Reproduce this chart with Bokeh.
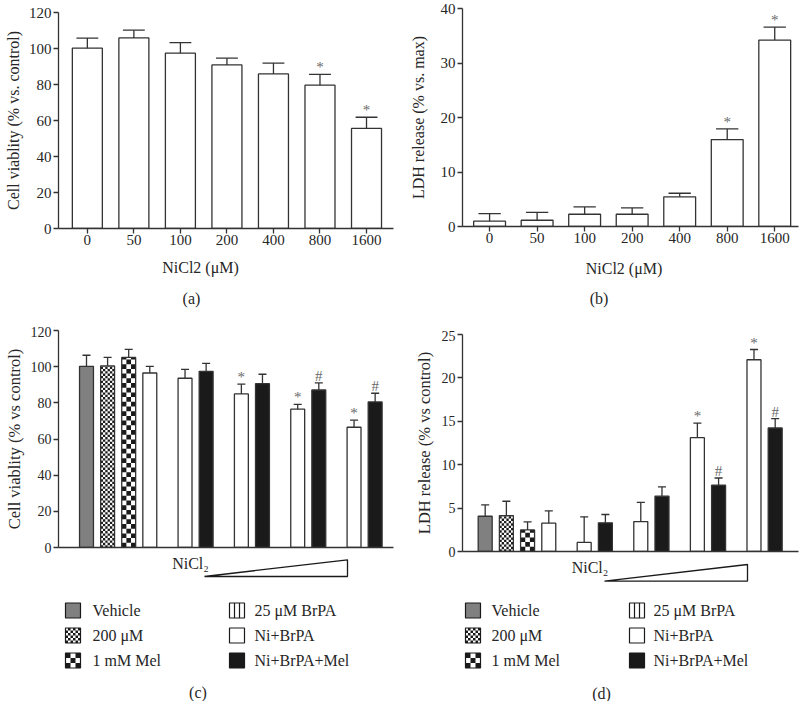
import math
from bokeh.plotting import figure
from bokeh.layouts import row, column
from bokeh.models import Range1d, FixedTicker, Label
from bokeh.core.properties import value
from bokeh.embed import file_html
from bokeh.resources import INLINE

FONT = "Liberation Serif"
INK = "#262626"
EDGE = "#333333"
STAR = "#6a6a6a"
GRAY = "#808080"
BLACK = "#1a1a1a"

# ---------------- data ----------------
doses = ["0", "50", "100", "200", "400", "800", "1600"]
a_viability = [100.2, 105.9, 97.4, 90.9, 85.9, 79.6, 55.6]
a_sem = [5.6, 4.3, 5.9, 3.7, 6.0, 6.0, 6.2]
a_sig = ["", "", "", "", "", "*", "*"]

b_ldh = [0.97, 1.15, 2.25, 2.25, 5.45, 15.95, 34.2]
b_sem = [1.4, 1.45, 1.35, 1.15, 0.65, 1.95, 2.4]
b_sig = ["", "", "", "", "", "*", "*"]

groups = ["Vehicle", "200 \u03bcM", "1 mM Mel", "25 \u03bcM BrPA", "Ni+BrPA", "Ni+BrPA+Mel"]
cd_group = [0, 1, 2, 3, 4, 5, 4, 5, 4, 5, 4, 5]

c_viability = [100.2, 100.4, 105.1, 96.5, 93.6, 97.4, 84.9, 90.6, 76.5, 87.1, 66.5, 80.5]
c_sem = [6.1, 4.7, 4.5, 3.7, 4.9, 4.4, 5.4, 5.2, 2.7, 3.9, 3.9, 4.8]
c_sig = ["", "", "", "", "", "", "*", "", "*", "#", "*", "#"]

d_ldh = [4.06, 4.14, 2.49, 3.26, 1.04, 3.30, 3.45, 6.37, 13.11, 7.63, 22.09, 14.23]
d_sem = [1.31, 1.65, 0.92, 1.42, 2.95, 0.96, 2.22, 1.07, 1.69, 0.84, 1.18, 1.07]
d_sig = ["", "", "", "", "", "", "", "", "*", "#", "*", "#"]

a_yticks = [0, 20, 40, 60, 80, 100, 120]
b_yticks = [0, 10, 20, 30, 40]
c_yticks = [0, 20, 40, 60, 80, 100, 120]
d_yticks = [0, 5, 10, 15, 20, 25]


# ---------------- helpers ----------------
class Geo:
    """Figure geometry: size, fixed borders and data ranges."""
    def __init__(self, w, h, bl, br, bt, bb, xr, yr):
        self.w, self.h = w, h
        self.bl, self.br, self.bt, self.bb = bl, br, bt, bb
        self.fw = w - bl - br
        self.fh = h - bt - bb
        self.xr, self.yr = xr, yr

    def uy(self, px):
        return px / self.fh * (self.yr[1] - self.yr[0])


def make_fig(g, **kw):
    p = figure(width=g.w, height=g.h, x_range=Range1d(*g.xr), y_range=Range1d(*g.yr),
               min_border_left=g.bl, min_border_right=g.br, min_border_top=g.bt,
               min_border_bottom=g.bb, output_backend="svg", toolbar_location=None, **kw)
    p.outline_line_color = None
    p.grid.visible = False
    p.background_fill_color = "white"
    p.border_fill_color = "white"
    return p


def style_axes(p, tick_size, label_size, ystand):
    for ax in p.axis:
        ax.axis_line_color = EDGE
        ax.axis_line_width = 1.3
        ax.major_tick_line_color = EDGE
        ax.major_tick_line_width = 1.3
        ax.major_tick_out = 5
        ax.major_tick_in = 0
        ax.minor_tick_line_color = None
        ax.major_label_text_font = FONT
        ax.major_label_text_font_size = tick_size
        ax.major_label_text_color = INK
        ax.axis_label_text_font = FONT
        ax.axis_label_text_font_size = label_size
        ax.axis_label_text_font_style = "normal"
        ax.axis_label_text_color = INK
        ax.major_label_standoff = 2
    p.yaxis.axis_label_standoff = ystand


def add_label(p, x, y, text, size="16px", align="center"):
    p.add_layout(Label(x=x, y=y, text=text, text_font=FONT, text_font_size=size,
                       text_color=INK, text_align=align, text_baseline="middle"))


def checker(xc, w, top, ncols, cell_h):
    L, R, B, T = [], [], [], []
    cw = w / ncols
    nrows = int(math.ceil(top / cell_h))
    for r in range(nrows):
        b = r * cell_h
        t = min(top, b + cell_h)
        for c in range(ncols):
            if (r + c) % 2 == 0:
                L.append(xc - w / 2 + c * cw)
                R.append(xc - w / 2 + (c + 1) * cw)
                B.append(b)
                T.append(t)
    return L, R, B, T


def errorbars(p, xs, vals, sems, cap, sig):
    tops = [v + s for v, s in zip(vals, sems)]
    p.segment(x0=xs, y0=vals, x1=xs, y1=tops, line_color=EDGE, line_width=1.3)
    p.segment(x0=[x - cap / 2 for x in xs], y0=tops, x1=[x + cap / 2 for x in xs], y1=tops,
              line_color=EDGE, line_width=1.3)
    p.text(x=xs, y=tops, text=sig, text_font=value(FONT), text_font_size="15px",
           text_color=STAR, text_align="center", text_baseline="bottom", y_offset=1)


def blank_fig(w, h, bl, br):
    # pixel-space figure whose frame lines up with the plots above it:
    # data x == pixel x inside the figure, data y == h - pixel y
    p = figure(width=w, height=h, x_range=Range1d(bl, w - br), y_range=Range1d(0, h),
               min_border_left=bl, min_border_right=br, min_border_top=0, min_border_bottom=0,
               x_axis_location=None, y_axis_location=None,
               output_backend="svg", toolbar_location=None)
    p.outline_line_color = None
    p.grid.visible = False
    p.background_fill_color = "white"
    p.border_fill_color = "white"
    return p


def caption_fig(w, h, bl, br, items):
    p = blank_fig(w, h, bl, br)
    for (x, y, t) in items:
        add_label(p, x, h - y, t)
    return p


# ---------------- top panels (a, b) ----------------
def top_panel(g, cats, vals, sems, sig, yticks, ylabel, bar_w, cap, ystand):
    p = make_fig(g)
    xs = list(range(len(cats)))
    p.vbar(x=xs, top=vals, bottom=0, width=bar_w, fill_color="white",
           line_color=EDGE, line_width=1.3)
    errorbars(p, xs, vals, sems, cap, sig)
    style_axes(p, "15px", "16px", ystand)
    p.xaxis.major_label_standoff = 1
    p.xaxis.ticker = FixedTicker(ticks=xs)
    p.xaxis.major_label_overrides = {i: c for i, c in enumerate(cats)}
    p.yaxis.ticker = FixedTicker(ticks=yticks)
    p.yaxis.axis_label = ylabel
    return p


# left column: a (0..254), caption (254..326), c (326..556), legend (556..701)
ga = Geo(400, 254, 58, 7, 12, 26, (-0.62, 6.58), (0, 120))
pa = top_panel(ga, doses, a_viability, a_sem, a_sig, a_yticks,
               "Cell viablity (% vs. control)", 0.645, 0.47, 4)
cap_a = caption_fig(400, 72, 58, 7, [(200, 12.7, "NiCl2 (\u03bcM)"), (191, 43.5, "(a)")])

# right column: b (0..252), caption (252..330), d (330..560), legend (560..701)
gb = Geo(399, 252, 62, 1, 8, 26, (-0.57, 6.5), (0, 40))
pb = top_panel(gb, doses, b_ldh, b_sem, b_sig, b_yticks,
               "LDH release (% vs. max)", 0.67, 0.47, 11)
cap_b = caption_fig(399, 78, 62, 1, [(223.5, 15.5, "NiCl2 (\u03bcM)"), (198.5, 45.5, "(b)")])


# ---------------- bottom panels (c, d) ----------------
def bar_positions(n):
    xs = []
    for i in range(n):
        if i < 4:
            xs.append(float(i))
        else:
            k = i - 4
            xs.append(4.67 + 2.67 * (k // 2) + (k % 2))
    return xs


def bottom_panel(g, vals, sems, sig, yticks, ylabel, ystand):
    p = make_fig(g)
    xs = bar_positions(len(vals))
    bw = 0.66
    fills = {0: GRAY, 1: "white", 2: "white", 3: "white", 4: "white", 5: BLACK}
    p.vbar(x=xs, top=vals, bottom=0, width=bw, fill_color=[fills[k] for k in cd_group],
           line_color=None)
    big = g.uy(4.7)
    fine = g.uy(2.35)
    L, R, B, T = [], [], [], []
    for x, v, k in zip(xs, vals, cd_group):
        if k == 1:
            l, r, b, t = checker(x, bw, v, 6, fine)
        elif k == 2:
            l, r, b, t = checker(x, bw, v, 3, big)
        else:
            continue
        L += l; R += r; B += b; T += t
    p.quad(left=L, right=R, bottom=B, top=T, fill_color=BLACK, line_color=None)
    p.vbar(x=xs, top=vals, bottom=0, width=bw, fill_color=None, line_color=EDGE, line_width=1.3)
    errorbars(p, xs, vals, sems, 0.38, sig)
    style_axes(p, "14px", "16.5px", ystand)
    p.xaxis.ticker = FixedTicker(ticks=[])
    p.xaxis.major_tick_out = 0
    p.yaxis.ticker = FixedTicker(ticks=yticks)
    p.yaxis.axis_label = ylabel
    return p


gc = Geo(400, 230, 58, 7, 4, 9, (-1.327, 14.55), (0, 120))
pc = bottom_panel(gc, c_viability, c_sem, c_sig, c_yticks, "Cell viablity (% vs control)", 4)

gd = Geo(399, 230, 62, 1, 4, 9, (-1.07, 14.78), (0, 25))
pd_ = bottom_panel(gd, d_ldh, d_sem, d_sig, d_yticks, "LDH release (% vs control)", 5)


# ---------------- dose wedge + legend ----------------
def legend_fig(w, h, bl, br, nicl, tri, rows_y, sq_x, txt_x, letter, letter_xy):
    p = blank_fig(w, h, bl, br)
    fy = lambda py: h - py
    add_label(p, nicl[0], fy(nicl[1]), "NiCl\u2082")
    (x0, x1, ytop, ybot) = tri
    p.patch(x=[x0, x1, x1], y=[fy(ybot), fy(ytop), fy(ybot)], fill_color="white",
            line_color=BLACK, line_width=1.3)
    s = 15
    for k, name in enumerate(groups):
        col, r = k // 3, k % 3
        cx, cy = sq_x[col] + s / 2, fy(rows_y[r])
        left, right, bottom, top = cx - s / 2, cx + s / 2, cy - s / 2, cy + s / 2
        fill = GRAY if k == 0 else (BLACK if k == 5 else "white")
        p.quad(left=[left], right=[right], bottom=[bottom], top=[top], fill_color=fill,
               line_color=None)
        if k in (1, 2):
            n = 6 if k == 1 else 3
            cs = s / n
            L, R, B, T = [], [], [], []
            for i in range(n):
                for j in range(n):
                    if (i + j) % 2 == 0:
                        L.append(left + j * cs); R.append(left + (j + 1) * cs)
                        B.append(bottom + i * cs); T.append(bottom + (i + 1) * cs)
            p.quad(left=L, right=R, bottom=B, top=T, fill_color=BLACK, line_color=None)
        if k == 3:
            p.segment(x0=[left + s / 3, left + 2 * s / 3], y0=[bottom, bottom],
                      x1=[left + s / 3, left + 2 * s / 3], y1=[top, top],
                      line_color=BLACK, line_width=1.2)
        p.quad(left=[left], right=[right], bottom=[bottom], top=[top], fill_color=None,
               line_color=BLACK, line_width=1.2)
        add_label(p, txt_x[col], cy, name, align="left")
    add_label(p, letter_xy[0], fy(letter_xy[1]), letter)
    return p


lc = legend_fig(400, 145, 58, 7, (190, 6.5), (204, 347, 3.3, 20), [54, 79, 104],
                [65, 229], [92, 254], "(c)", (197.5, 136))
ld = legend_fig(399, 141, 62, 1, (189.5, 6.5), (204, 347, 4, 20.7), [50, 75, 100],
                [65, 229], [91, 253], "(d)", (201, 132.5))

layout = row(column(pa, cap_a, pc, lc), column(pb, cap_b, pd_, ld))

open("out.html", "w").write(file_html(layout, INLINE))
